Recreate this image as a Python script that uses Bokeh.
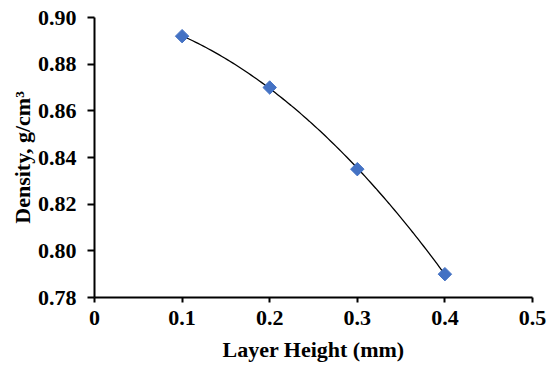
import numpy as np
from bokeh.plotting import figure
from bokeh.models import Range1d, FixedTicker
from bokeh.embed import file_html
from bokeh.resources import INLINE

layer_height = [0.1, 0.2, 0.3, 0.4]
density = [0.892, 0.870, 0.835, 0.790]
x_ticks = [0, 0.1, 0.2, 0.3, 0.4, 0.5]
x_tick_labels = ["0", "0.1", "0.2", "0.3", "0.4", "0.5"]
y_ticks = [0.78, 0.80, 0.82, 0.84, 0.86, 0.88, 0.90]
y_tick_labels = ["0.78", "0.80", "0.82", "0.84", "0.86", "0.88", "0.90"]

FONT = "Liberation Serif"

p = figure(width=550, height=372, output_backend="svg", toolbar_location=None,
           x_range=Range1d(0, 0.5), y_range=Range1d(0.78, 0.90),
           min_border_left=94, min_border_right=18, min_border_top=17, min_border_bottom=75)
p.outline_line_color = None
p.xgrid.visible = False
p.ygrid.visible = False

# polynomial (order 2) trendline through the data
coef = np.polyfit(layer_height, density, 2)
xs = np.linspace(min(layer_height), max(layer_height), 100)
p.line(xs, np.polyval(coef, xs), line_color="black", line_width=1.3)

p.scatter(layer_height, density, marker="square", size=9.5, angle=np.pi / 4,
          fill_color="#4472C4", line_color="#4472C4")

for ax in (p.xaxis, p.yaxis):
    ax.axis_line_width = 2
    ax.major_tick_line_width = 2
    ax.minor_tick_line_color = None
    ax.major_tick_in = 0
    ax.major_label_text_font = FONT
    ax.major_label_text_font_style = "bold"
    ax.major_label_text_font_size = "22px"
    ax.major_label_text_color = "black"
    ax.axis_label_text_font = FONT
    ax.axis_label_text_font_style = "bold"
    ax.axis_label_text_font_size = "22px"
    ax.axis_label_text_color = "black"

p.xaxis.ticker = FixedTicker(ticks=x_ticks)
p.xaxis.major_label_overrides = dict(zip(x_ticks, x_tick_labels))
p.xaxis.major_tick_out = 5
p.xaxis.major_label_standoff = 8
p.xaxis.axis_label = "Layer Height (mm)"
p.xaxis.axis_label_standoff = 9

p.yaxis.ticker = FixedTicker(ticks=y_ticks)
p.yaxis.major_label_overrides = dict(zip(y_ticks, y_tick_labels))
p.yaxis.major_tick_out = 7
p.yaxis.major_label_standoff = 11
p.yaxis.axis_label = "Density, g/cm³"
p.yaxis.axis_label_standoff = 0

open("out.html", "w").write(file_html(p, INLINE))
